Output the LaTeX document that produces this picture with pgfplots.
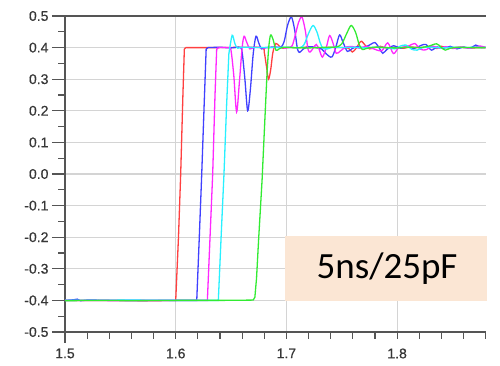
\documentclass[border=0pt]{standalone}
\usepackage{fontspec}
\setmainfont{Liberation Sans}
\newfontfamily\calibri{Carlito}
\newfontfamily\tickfont{Liberation Sans}[FakeBold=0.6]
\usepackage{pgfplots}
\pgfplotsset{compat=1.18}

\definecolor{tr}{RGB}{255,64,64}
\definecolor{tb}{RGB}{64,64,255}
\definecolor{tm}{RGB}{255,40,255}
\definecolor{tc}{RGB}{40,240,255}
\definecolor{tg}{RGB}{50,235,50}
\definecolor{gridgray}{RGB}{212,212,212}
\definecolor{axgray}{RGB}{85,85,85}
\definecolor{labelgray}{RGB}{55,55,55}
\definecolor{boxfill}{RGB}{251,230,212}

\newcommand\ticklabelfont{\tickfont\fontsize{14}{16}\selectfont}

\begin{document}
\begin{tikzpicture}
\useasboundingbox (-65pt,-34pt) rectangle (435pt,332pt);
\begin{axis}[
  at={(0,0)}, anchor=south west,
  scale only axis, width=420.7pt, height=316pt,
  xmin=1.5, xmax=1.88, ymin=-0.5, ymax=0.5,
  clip=false,
  axis lines*=left,
  axis line style={draw=axgray, line width=1.5pt},
  xtick={1.5,1.6,1.7,1.8}, xticklabels={1.5,1.6,1.7,1.8},
  ytick={-0.5,-0.4,-0.3,-0.2,-0.1,0,0.1,0.2,0.3,0.4,0.5},
  yticklabels={-0.5,-0.4,-0.3,-0.2,-0.1,0.0,0.1,0.2,0.3,0.4,0.5},
  minor y tick num=1,
  tick align=outside,
  major tick length=13pt, minor tick length=6.5pt,
  every tick/.style={axgray, line width=1.2pt},
  every major x tick/.style={draw=none},
  grid=major, major grid style={gridgray, line width=1.2pt},
  xticklabel style={font=\ticklabelfont, text=labelgray},
  yticklabel style={font=\ticklabelfont, text=labelgray},
  every axis plot/.append style={line width=1.3pt, mark=none},
]
% red: edge, then ringing
\addplot[tr] coordinates {
(1.500,-0.400) (1.540,-0.400) (1.580,-0.401) (1.600,-0.400) (1.6025,-0.20)
(1.6045,0.00) (1.6065,0.25) (1.6078,0.395) (1.609,0.400)
};
\addplot[tr, smooth] coordinates {
(1.609,0.400) (1.640,0.400)
(1.660,0.401) (1.678,0.400) (1.680,0.385) (1.682,0.340) (1.6838,0.300)
(1.6858,0.330) (1.6878,0.385) (1.6905,0.413) (1.6935,0.405) (1.697,0.398)
(1.702,0.401) (1.710,0.399) (1.720,0.402) (1.730,0.399) (1.740,0.401)
(1.750,0.400) (1.756,0.398) (1.7595,0.386) (1.763,0.398) (1.766,0.415)
(1.768,0.420) (1.771,0.408) (1.775,0.396) (1.779,0.400) (1.785,0.404)
(1.790,0.399) (1.798,0.401) (1.806,0.398) (1.812,0.402) (1.820,0.400)
(1.830,0.402) (1.836,0.397) (1.840,0.404) (1.846,0.399) (1.855,0.401)
(1.865,0.399) (1.880,0.400)
};
% blue
\addplot[tb] coordinates {
(1.500,-0.400) (1.508,-0.398) (1.511,-0.396) (1.514,-0.401) (1.520,-0.399)
(1.560,-0.400) (1.600,-0.400) (1.619,-0.400) (1.6213,-0.20) (1.6235,0.00)
(1.6257,0.22) (1.6275,0.395) (1.629,0.400)
};
\addplot[tb, smooth] coordinates {
(1.629,0.400) (1.640,0.401) (1.650,0.399)
(1.658,0.401) (1.660,0.385) (1.6625,0.300) (1.665,0.200) (1.6675,0.270)
(1.670,0.380) (1.6725,0.436) (1.675,0.415) (1.6775,0.396) (1.681,0.400)
(1.690,0.402) (1.695,0.401) (1.698,0.420) (1.701,0.470) (1.7045,0.497)
(1.7075,0.455) (1.7100,0.395) (1.7120,0.385) (1.7150,0.395) (1.720,0.403)
(1.726,0.401) (1.732,0.395) (1.736,0.380) (1.7410,0.370) (1.7445,0.400)
(1.748,0.440) (1.751,0.418) (1.755,0.388) (1.759,0.396) (1.764,0.403)
(1.770,0.400) (1.776,0.410) (1.780,0.416) (1.784,0.398) (1.787,0.382)
(1.791,0.395) (1.797,0.406) (1.803,0.398) (1.809,0.404) (1.815,0.397)
(1.821,0.406) (1.826,0.410) (1.831,0.392) (1.836,0.402) (1.842,0.398)
(1.848,0.404) (1.854,0.396) (1.860,0.402) (1.866,0.398) (1.871,0.408)
(1.876,0.400) (1.880,0.401)
};
% magenta
\addplot[tm] coordinates {
(1.500,-0.400) (1.560,-0.401) (1.600,-0.400) (1.6286,-0.400) (1.631,-0.20)
(1.6334,0.00) (1.6355,0.25) (1.637,0.395) (1.6385,0.400)
};
\addplot[tm, smooth] coordinates {
(1.6385,0.400) (1.648,0.400)
(1.650,0.390) (1.6525,0.310) (1.655,0.196) (1.6575,0.290) (1.660,0.400)
(1.6618,0.436) (1.664,0.418) (1.667,0.396) (1.671,0.401) (1.680,0.399)
(1.690,0.401) (1.700,0.399) (1.705,0.405) (1.708,0.440) (1.711,0.480)
(1.714,0.497) (1.717,0.455) (1.7195,0.395) (1.7215,0.386) (1.7245,0.400)
(1.727,0.410) (1.7295,0.395) (1.7325,0.370) (1.736,0.400) (1.739,0.438)
(1.742,0.415) (1.745,0.382) (1.749,0.390) (1.754,0.402) (1.760,0.403)
(1.766,0.398) (1.772,0.404) (1.778,0.397) (1.786,0.390) (1.7915,0.415)
(1.7966,0.381) (1.801,0.398) (1.806,0.402) (1.811,0.406) (1.816,0.413)
(1.821,0.395) (1.826,0.393) (1.832,0.405) (1.838,0.398) (1.844,0.403)
(1.850,0.397) (1.858,0.402) (1.866,0.398) (1.875,0.405) (1.880,0.400)
};
% cyan
\addplot[tc] coordinates {
(1.500,-0.400) (1.560,-0.399) (1.600,-0.400) (1.6385,-0.400) (1.641,-0.20)
(1.6436,0.00) (1.646,0.22) (1.648,0.380)
};
\addplot[tc, smooth] coordinates {
(1.648,0.380) (1.651,0.439) (1.6535,0.412)
(1.656,0.398) (1.660,0.401) (1.680,0.400) (1.700,0.401) (1.712,0.400)
(1.716,0.410) (1.720,0.445) (1.724,0.470) (1.7275,0.450) (1.7305,0.415)
(1.733,0.398) (1.737,0.396) (1.742,0.401) (1.750,0.400) (1.760,0.401)
(1.770,0.399) (1.780,0.401) (1.790,0.400) (1.798,0.396) (1.803,0.405)
(1.808,0.408) (1.813,0.395) (1.818,0.392) (1.823,0.400) (1.830,0.401)
(1.840,0.399) (1.850,0.401) (1.860,0.400) (1.870,0.401) (1.880,0.400)
};
% green
\addplot[tg] coordinates {
(1.500,-0.401) (1.530,-0.400) (1.560,-0.401) (1.600,-0.400) (1.640,-0.400)
(1.670,-0.399) (1.6715,-0.390) (1.673,-0.330) (1.675,-0.200) (1.678,-0.020)
(1.6805,0.170) (1.6825,0.320)
};
\addplot[tg, smooth] coordinates {
(1.6825,0.320) (1.684,0.400) (1.6857,0.440) (1.688,0.425)
(1.6905,0.392) (1.693,0.395) (1.697,0.401) (1.705,0.400) (1.720,0.399)
(1.735,0.401) (1.745,0.402) (1.750,0.412) (1.7545,0.445) (1.7585,0.470)
(1.7625,0.448) (1.7655,0.412) (1.7685,0.394) (1.772,0.397) (1.778,0.401)
(1.790,0.400) (1.800,0.399) (1.810,0.401) (1.820,0.400) (1.828,0.404)
(1.8357,0.412) (1.840,0.400) (1.8435,0.392) (1.848,0.398) (1.856,0.401)
(1.866,0.400) (1.880,0.400)
};
% frame top edge
\draw[axgray, line width=1.5pt] (rel axis cs:0,1) -- (rel axis cs:1,1);
% left edge runs a little below the bottom edge
\draw[axgray, line width=1.5pt] (rel axis cs:0,0) -- ++(0pt,-11pt);
% short time ticks every 0.02 below the bottom edge
\pgfplotsinvokeforeach{1.52,1.54,1.56,1.58,1.6,1.62,1.64,1.66,1.68,1.7,1.72,1.74,1.76,1.78,1.8,1.82,1.84,1.86,1.88}{
  \draw[axgray, line width=1.2pt] (axis cs:#1,-0.5) -- ++(0pt,-7pt);
}
% annotation box
\fill[boxfill] (axis cs:1.6987,-0.403) rectangle (axis cs:1.8812,-0.197);
\node[font=\calibri\fontsize{37}{40}\selectfont, text=black] at (axis cs:1.7909,-0.298) {5ns/25pF};
\end{axis}
\end{tikzpicture}
\end{document}
